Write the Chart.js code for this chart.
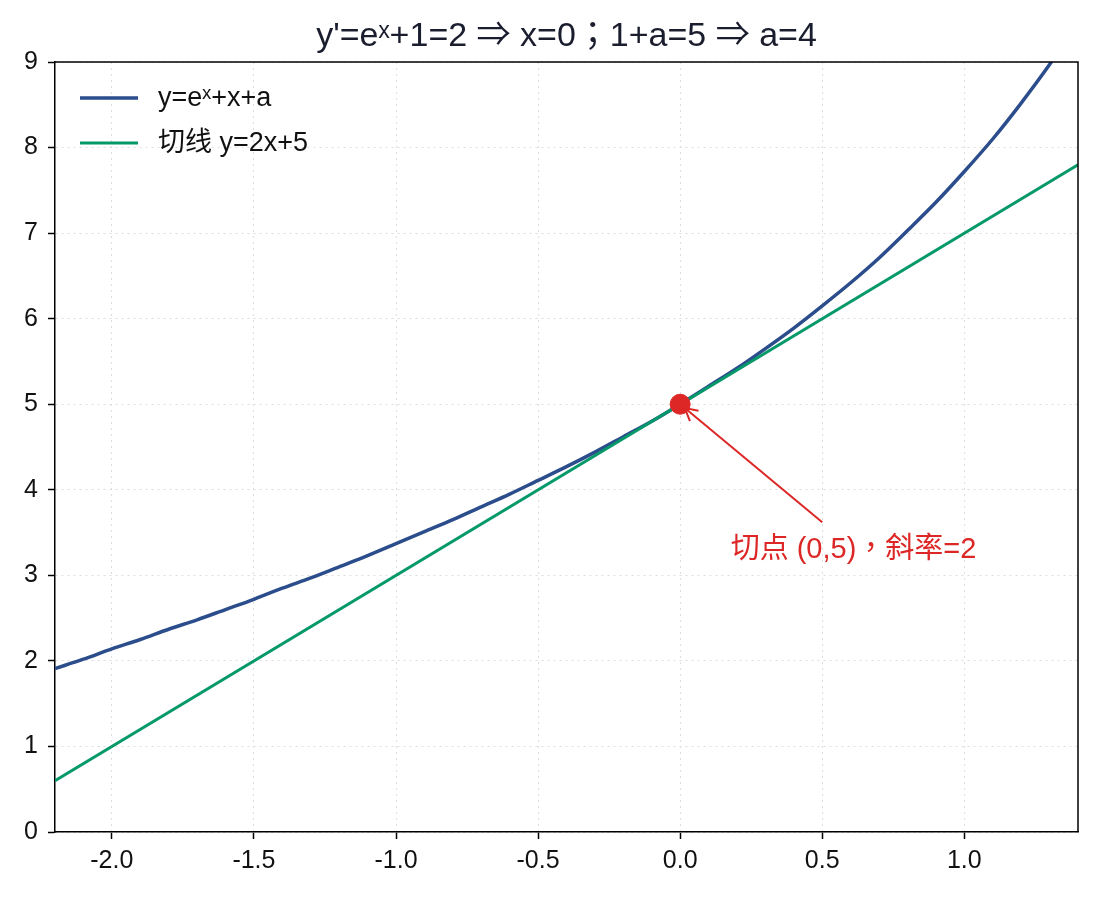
<!DOCTYPE html>
<html>
<head>
<meta charset="utf-8">
<script src="https://cdn.jsdelivr.net/npm/chart.js@4"></script>
<style>
  html, body { margin: 0; padding: 0; background: #fff; }
  #wrap { width: 1098px; height: 898px; }
</style>
</head>
<body>
<div id="wrap"><canvas id="c" width="1098" height="898"></canvas></div>
<script>
// values
const curveX = [-2.2, -2.1, -2.0, -1.9, -1.8, -1.7, -1.6, -1.5, -1.4, -1.3, -1.2, -1.1, -1.0,
  -0.9, -0.8, -0.7, -0.6, -0.5, -0.4, -0.3, -0.2, -0.1, 0.0, 0.1, 0.2, 0.3, 0.4, 0.5,
  0.6, 0.7, 0.8, 0.9, 1.0, 1.1, 1.2, 1.3, 1.4];
const curveY = [1.91, 2.02, 2.14, 2.25, 2.37, 2.48, 2.60, 2.72, 2.85, 2.97, 3.10, 3.23, 3.37,
  3.51, 3.65, 3.80, 3.95, 4.11, 4.27, 4.44, 4.62, 4.80, 5.00, 5.21, 5.42, 5.65, 5.89, 6.15,
  6.42, 6.71, 7.03, 7.36, 7.72, 8.10, 8.52, 8.97, 9.46];
const tangentX = [-2.2, 1.4];
const tangentY = [0.6, 7.8];
const touchPoint = { x: 0, y: 5 };
const arrowFrom = { x: 0.5, y: 3.62 };
const labelAt = { x: 0.61, y: 3.3 };
const xTicks = [-2.0, -1.5, -1.0, -0.5, 0.0, 0.5, 1.0];
const yTicks = [0, 1, 2, 3, 4, 5, 6, 7, 8, 9];

const titleText = "y'=eˣ+1=2 ⇒ x=0；1+a=5 ⇒ a=4";
const noteText = "切点 (0,5)，斜率=2";

const FONT = '"Liberation Sans", Arial, "Noto Sans CJK TC", sans-serif';
const BLUE = "#2b4d8c";
const GREEN = "#05996a";
const RED = "#dd2626";

const toPts = (xs, ys) => xs.map((x, i) => ({ x, y: ys[i] }));

// -----------------------------
// Title, legend, frame and annotation
// -----------------------------
const extras = {
  id: "extras",
  afterDatasetsDraw(chart) {
    const { ctx, chartArea: a, scales } = chart;
    const sx = scales.x, sy = scales.y;

    ctx.save();
    // title over the plot area
    ctx.fillStyle = "#1a1d2e";
    ctx.font = "34px " + FONT;
    ctx.textAlign = "center";
    ctx.textBaseline = "middle";
    ctx.fillText(titleText, (a.left + a.right) / 2, 37);

    // top + right frame
    ctx.strokeStyle = "#000";
    ctx.lineWidth = 1.5;
    ctx.beginPath();
    ctx.moveTo(a.left, a.top);
    ctx.lineTo(a.right, a.top);
    ctx.lineTo(a.right, a.bottom);
    ctx.stroke();

    // arrow
    const px = sx.getPixelForValue(touchPoint.x), py = sy.getPixelForValue(touchPoint.y);
    const fx = sx.getPixelForValue(arrowFrom.x), fy = sy.getPixelForValue(arrowFrom.y);
    const ang = Math.atan2(py - fy, px - fx);
    const tx = px - Math.cos(ang) * 6, ty = py - Math.sin(ang) * 6;
    ctx.strokeStyle = RED;
    ctx.lineWidth = 2;
    ctx.beginPath();
    ctx.moveTo(fx, fy);
    ctx.lineTo(tx, ty);
    ctx.stroke();
    ctx.beginPath();
    ctx.moveTo(tx - Math.cos(ang - 0.5) * 14, ty - Math.sin(ang - 0.5) * 14);
    ctx.lineTo(tx, ty);
    ctx.lineTo(tx - Math.cos(ang + 0.5) * 14, ty - Math.sin(ang + 0.5) * 14);
    ctx.stroke();

    ctx.fillStyle = RED;
    ctx.font = "29px " + FONT;
    ctx.fillText(noteText, sx.getPixelForValue(labelAt.x), sy.getPixelForValue(labelAt.y));

    // legend
    const items = chart.data.datasets.filter(d => d.label);
    ctx.font = "27px " + FONT;
    ctx.textAlign = "left";
    items.forEach((d, i) => {
      const y = a.top + 36 + i * 45;
      ctx.strokeStyle = d.borderColor;
      ctx.lineWidth = d.borderWidth;
      ctx.beginPath();
      ctx.moveTo(a.left + 25, y);
      ctx.lineTo(a.left + 83, y);
      ctx.stroke();
      ctx.fillStyle = "#111";
      ctx.fillText(d.label, a.left + 103, y + 1);
    });
    ctx.restore();
  }
};

const axisFont = { family: FONT, size: 25 };

new Chart(document.getElementById("c"), {
  type: "scatter",
  data: {
    datasets: [
      {
        label: "y=eˣ+x+a",
        data: toPts(curveX, curveY),
        showLine: true,
        borderColor: BLUE,
        borderWidth: 3.5,
        pointRadius: 0,
        cubicInterpolationMode: "monotone",
        order: 2
      },
      {
        label: "切线 y=2x+5",
        data: toPts(tangentX, tangentY),
        showLine: true,
        borderColor: GREEN,
        borderWidth: 3,
        pointRadius: 0,
        order: 1
      },
      {
        label: "",
        data: [touchPoint],
        backgroundColor: RED,
        borderColor: RED,
        pointRadius: 10,
        order: 0
      }
    ]
  },
  options: {
    responsive: false,
    animation: false,
    layout: { padding: { left: 0, right: 20, top: 62, bottom: 0 } },
    plugins: {
      legend: { display: false },
      tooltip: { enabled: false },
      title: { display: false }
    },
    scales: {
      x: {
        type: "linear",
        min: -2.2,
        max: 1.4,
        afterBuildTicks: s => { s.ticks = xTicks.map(v => ({ value: v })); },
        afterFit: s => { s.height = 66; },
        ticks: {
          color: "#111",
          font: axisFont,
          padding: 7,
          maxRotation: 0,
          callback: v => v.toFixed(1)
        },
        grid: { color: "#dddddd", lineWidth: 1, tickColor: "#000", tickLength: 7, tickWidth: 1.5 },
        border: { color: "#000", width: 1.5, dash: [2, 4] }
      },
      y: {
        type: "linear",
        min: 0,
        max: 9,
        afterBuildTicks: s => { s.ticks = yTicks.map(v => ({ value: v })); },
        afterFit: s => { s.width = 55; },
        ticks: { color: "#111", font: axisFont, padding: 10 },
        grid: { color: "#dddddd", lineWidth: 1, tickColor: "#000", tickLength: 7, tickWidth: 1.5 },
        border: { color: "#000", width: 1.5, dash: [2, 4] }
      }
    }
  },
  plugins: [extras]
});
</script>
</body>
</html>
